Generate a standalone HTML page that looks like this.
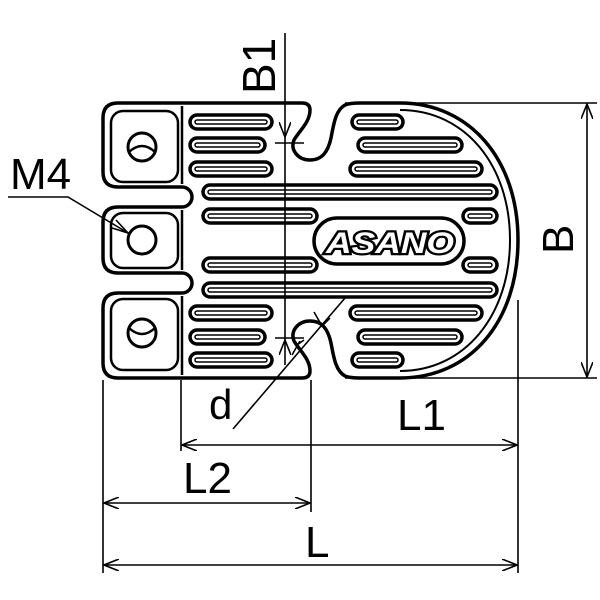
<!DOCTYPE html>
<html><head><meta charset="utf-8"><style>
html,body{margin:0;padding:0;background:#fff;}
svg{display:block}
text{font-family:"Liberation Sans",Arial,sans-serif;fill:#000}
</style></head><body>
<svg width="600" height="600" viewBox="0 0 600 600" xmlns="http://www.w3.org/2000/svg">
<defs>
<marker id="a" markerWidth="16" markerHeight="12" refX="15" refY="6" orient="auto-start-reverse" markerUnits="userSpaceOnUse">
<path d="M0,0 L15,6 L0,12" fill="none" stroke="#000" stroke-width="1.6"/>
</marker>
</defs>
<path d="M118,103 H302 Q310,103 310,110 C310,122 300,130 294,140 C290,150 298,160 310,160 C322,160 328,152 331,138 C334,122 336,110 345,105 Q350,103 360,103 H400 C470,103 518,160 518,240 C518,322 470,378 400,378 H360 Q350,378 345,376 C336,371 334,359 331,343 C328,329 322,321 310,321 C298,321 290,331 294,341 C300,351 310,359 310,371 Q310,378 302,378 H118 Q103,378 103,363 V308 Q103,293 118,293 H182 A10,10 0 0 0 182,273 H118 Q103,273 103,258 V222 Q103,207 118,207 H182 A10,10 0 0 0 182,187 H118 Q103,187 103,172 V118 Q103,103 118,103 Z" fill="none" stroke="#000" stroke-width="3.5"/>
<path d="M400,110 C465,110 510,165 510,240 C510,315 465,371 400,371" fill="none" stroke="#000" stroke-width="2"/>
<g fill="none" stroke="#000" stroke-width="2.5">
<rect x="111" y="111" width="67" height="71" rx="12"/>
<rect x="111" y="213" width="67" height="55" rx="12"/>
<rect x="111" y="299" width="67" height="71" rx="12"/>
<line x1="182" y1="106" x2="182" y2="184"/>
<line x1="182" y1="210" x2="182" y2="270"/>
<line x1="182" y1="296" x2="182" y2="375"/>
<circle cx="142" cy="147" r="14" stroke-width="3"/>
<path d="M129,152 Q142,140 155,152" stroke-width="2.5"/>
<circle cx="142" cy="240" r="14" stroke-width="3"/>
<circle cx="142" cy="333" r="14" stroke-width="3"/>
<path d="M129,328 Q142,340 155,328" stroke-width="2.5"/>
</g>
<g fill="#fff" stroke="#000" stroke-width="3.5">
<rect x="190" y="115" width="82" height="14" rx="7"/><rect x="352" y="115" width="51" height="14" rx="7"/>
<rect x="190" y="138" width="75" height="14" rx="7"/><rect x="358" y="138" width="104" height="14" rx="7"/>
<rect x="190" y="162" width="82" height="14" rx="7"/><rect x="350" y="162" width="132" height="14" rx="7"/>
<rect x="203" y="185" width="294" height="14" rx="7"/>
<rect x="203" y="209" width="114" height="14" rx="7"/><rect x="463" y="209" width="34" height="14" rx="7"/>
<rect x="203" y="258" width="114" height="14" rx="7"/><rect x="463" y="258" width="34" height="14" rx="7"/>
<rect x="203" y="283" width="294" height="14" rx="7"/>
<rect x="190" y="306" width="82" height="14" rx="7"/><rect x="350" y="306" width="132" height="14" rx="7"/>
<rect x="190" y="330" width="75" height="14" rx="7"/><rect x="358" y="330" width="104" height="14" rx="7"/>
<rect x="190" y="353" width="82" height="14" rx="7"/><rect x="352" y="353" width="51" height="14" rx="7"/>
</g>
<g fill="none" stroke="#000" stroke-width="1.5">
<rect x="195" y="120" width="72" height="4" rx="2"/><rect x="357" y="120" width="41" height="4" rx="2"/>
<rect x="195" y="143" width="65" height="4" rx="2"/><rect x="363" y="143" width="94" height="4" rx="2"/>
<rect x="195" y="167" width="72" height="4" rx="2"/><rect x="355" y="167" width="122" height="4" rx="2"/>
<rect x="208" y="190" width="284" height="4" rx="2"/>
<rect x="208" y="214" width="104" height="4" rx="2"/><rect x="468" y="214" width="24" height="4" rx="2"/>
<rect x="208" y="263" width="104" height="4" rx="2"/><rect x="468" y="263" width="24" height="4" rx="2"/>
<rect x="208" y="288" width="284" height="4" rx="2"/>
<rect x="195" y="311" width="72" height="4" rx="2"/><rect x="355" y="311" width="122" height="4" rx="2"/>
<rect x="195" y="335" width="65" height="4" rx="2"/><rect x="363" y="335" width="94" height="4" rx="2"/>
<rect x="195" y="358" width="72" height="4" rx="2"/><rect x="357" y="358" width="41" height="4" rx="2"/>
</g>
<rect x="314" y="218" width="150" height="46" rx="23" fill="#fff" stroke="#000" stroke-width="3.5"/>
<text x="326" y="253" textLength="128" lengthAdjust="spacingAndGlyphs" font-size="30" font-weight="bold" font-style="italic" style="fill:#fff;stroke:#000;stroke-width:4.5;paint-order:stroke">ASANO</text>
<g stroke="#000" stroke-width="1.6" fill="none">
<line x1="285" y1="33" x2="285" y2="137" marker-end="url(#a)"/>
<line x1="285" y1="137" x2="285" y2="340"/>
<line x1="285" y1="365" x2="285" y2="340" marker-end="url(#a)"/>
<line x1="275" y1="143" x2="304" y2="143"/>
<line x1="275" y1="338" x2="304" y2="338"/>
<line x1="345" y1="103" x2="597" y2="103"/>
<line x1="345" y1="378" x2="597" y2="378"/>
<line x1="587" y1="240" x2="587" y2="104" marker-end="url(#a)"/>
<line x1="587" y1="240" x2="587" y2="377" marker-end="url(#a)"/>
<line x1="103" y1="380" x2="103" y2="573"/>
<line x1="181" y1="380" x2="181" y2="451"/>
<line x1="311" y1="380" x2="311" y2="512"/>
<line x1="518" y1="300" x2="518" y2="573"/>
<line x1="350" y1="445" x2="182" y2="445" marker-end="url(#a)"/>
<line x1="350" y1="445" x2="517" y2="445" marker-end="url(#a)"/>
<line x1="200" y1="503" x2="104" y2="503" marker-end="url(#a)"/>
<line x1="200" y1="503" x2="310" y2="503" marker-end="url(#a)"/>
<line x1="300" y1="565" x2="104" y2="565" marker-end="url(#a)"/>
<line x1="300" y1="565" x2="517" y2="565" marker-end="url(#a)"/>
<line x1="345" y1="298" x2="233" y2="429"/>
<path d="M330,318 L322,326 M314,312 L322,326" />
<path d="M297,345 L304,340 M292,355 L300,341"/>
<polyline points="8,197 68,197 128,233"/>
<path d="M112,228 L128,233 L116,220"/>
</g>
<text x="10" y="189" font-size="44">M4</text>
<text x="397" y="430" font-size="44">L1</text>
<text x="183" y="493" font-size="44">L2</text>
<text x="305" y="557" font-size="44">L</text>
<text x="209" y="419" font-size="42">d</text>
<text transform="translate(275,94) rotate(-90)" font-size="46">B1</text>
<text transform="translate(573,254) rotate(-90)" font-size="44">B</text>
</svg>
</body></html>
